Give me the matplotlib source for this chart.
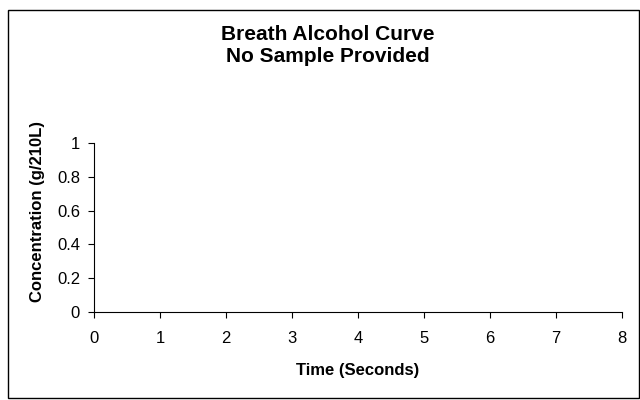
import matplotlib.pyplot as plt
import matplotlib.patches as patches
from matplotlib.ticker import FormatStrFormatter

# No sample provided, so the curve is empty
time_s = []
concentration = []

x_ticks = [0, 1, 2, 3, 4, 5, 6, 7, 8]
y_ticks = [0, 0.2, 0.4, 0.6, 0.8, 1]

plt.rcParams['font.family'] = ['Liberation Sans', 'DejaVu Sans']

fig = plt.figure(figsize=(6.4, 4), dpi=100)
ax = fig.add_axes([94 / 640, 1 - 312 / 400, 528 / 640, 169 / 400])

ax.plot(time_s, concentration, color='navy')

ax.set_xlim(0, 8)
ax.set_ylim(0, 1)
ax.set_xticks(x_ticks)
ax.set_yticks(y_ticks)
ax.yaxis.set_major_formatter(FormatStrFormatter('%g'))
ax.tick_params(direction='out', length=4, width=0.8, labelsize=12)
ax.tick_params(axis='x', pad=10)
ax.tick_params(axis='y', pad=6)

for side in ['top', 'right']:
    ax.spines[side].set_visible(False)
for side in ['left', 'bottom']:
    ax.spines[side].set_linewidth(0.8)

fig.text(358 / 640, 1 - 370 / 400, "Time (Seconds)", ha='center', va='center',
         fontsize=12, fontweight='bold')
fig.text(38 / 640, 1 - 211 / 400, "Concentration (g/210L)", ha='center', va='center',
         rotation=90, fontsize=12, fontweight='bold')

fig.text(328 / 640, 1 - 34 / 400, "Breath Alcohol Curve", ha='center', va='center',
         fontsize=15, fontweight='bold')
fig.text(328 / 640, 1 - 57 / 400, "No Sample Provided", ha='center', va='center',
         fontsize=15, fontweight='bold')

# Chart area border
border = patches.Rectangle((8 / 640, 2 / 400), 631 / 640, 388 / 400,
                           transform=fig.transFigure, fill=False,
                           edgecolor='black', linewidth=1)
fig.patches.append(border)

fig.savefig("out.png", dpi=100)
